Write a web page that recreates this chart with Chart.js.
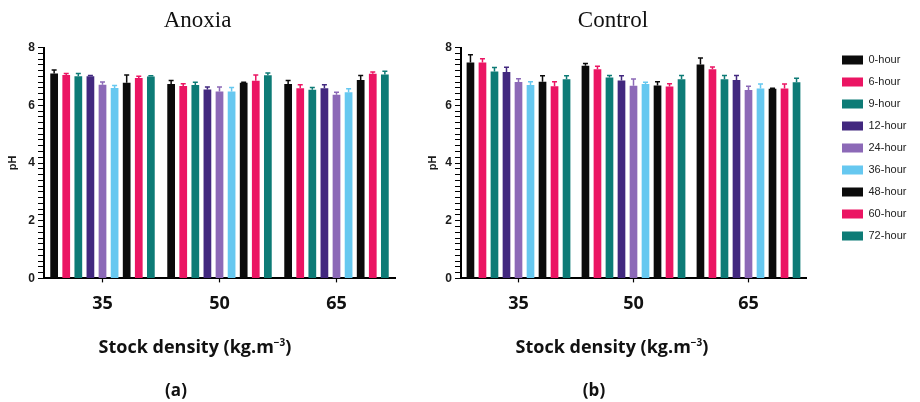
<!DOCTYPE html>
<html>
<head>
<meta charset="utf-8">
<script src="https://cdn.jsdelivr.net/npm/chart.js@4.4.1/dist/chart.umd.min.js"></script>
<style>
  html, body { margin: 0; padding: 0; background: #fff; width: 920px; height: 402px; overflow: hidden; }
  .panel { position: absolute; top: 0; height: 402px; }
  #panelA { left: 0; width: 400px; }
  #panelB { left: 420px; width: 500px; }
  .cap { position: absolute; font-family: "Open Sans", sans-serif; font-weight: 700; color: #111;
         white-space: nowrap; transform: translate(-50%, -50%); font-size: 17px; line-height: 1; }
  .axisTitle { top: 346px; font-size: 18px; }
  .tag { top: 389px; }
</style>
</head>
<body>
<div class="panel" id="panelA"><canvas id="chartA" width="400" height="402"></canvas></div>
<div class="panel" id="panelB"><canvas id="chartB" width="500" height="402"></canvas></div>
<div class="cap axisTitle" style="left:195px">Stock density (kg.m<sup style="font-size:10px;vertical-align:7px">−3</sup>)</div>
<div class="cap axisTitle" style="left:612px">Stock density (kg.m<sup style="font-size:10px;vertical-align:7px">−3</sup>)</div>
<div class="cap tag" style="left:176px">(a)</div>
<div class="cap tag" style="left:594px">(b)</div>
<script>
// Stocking densities (kg.m-3) and sampling times
const densities = ['35', '50', '65'];
const hourLabels = ['0-hour', '6-hour', '9-hour', '12-hour', '24-hour', '36-hour', '48-hour', '60-hour', '72-hour'];
const hourColors = ['#0b0b0b', '#eb1563', '#0d7b76', '#42287f', '#8c69b7', '#66c8f0', '#0b0b0b', '#eb1563', '#0d7b76'];
const yTickValues = [0, 2, 4, 6, 8];

// Anoxia: mean pH per sampling time, one array per density
const anoxia35 = [7.10, 7.05, 7.01, 7.01, 6.71, 6.60, 6.78, 6.95, 7.00];
const anoxia50 = [6.74, 6.67, 6.70, 6.55, 6.48, 6.48, 6.78, 6.85, 7.04];
const anoxia65 = [6.74, 6.59, 6.54, 6.59, 6.37, 6.45, 6.88, 7.09, 7.07];
const anoxia35Err = [0.12, 0.05, 0.09, 0.02, 0.10, 0.09, 0.27, 0.06, 0.02];
const anoxia50Err = [0.12, 0.08, 0.10, 0.08, 0.15, 0.14, 0.02, 0.20, 0.08];
const anoxia65Err = [0.12, 0.12, 0.08, 0.12, 0.08, 0.12, 0.15, 0.06, 0.11];

// Control: mean pH per sampling time, one array per density
const control35 = [7.48, 7.48, 7.17, 7.15, 6.81, 6.70, 6.82, 6.66, 6.90];
const control50 = [7.37, 7.25, 6.96, 6.86, 6.68, 6.74, 6.69, 6.65, 6.90];
const control65 = [7.41, 7.25, 6.90, 6.88, 6.53, 6.58, 6.57, 6.58, 6.80];
const control35Err = [0.27, 0.13, 0.14, 0.17, 0.11, 0.12, 0.20, 0.16, 0.12];
const control50Err = [0.08, 0.10, 0.07, 0.16, 0.23, 0.06, 0.13, 0.10, 0.13];
const control65Err = [0.23, 0.08, 0.13, 0.15, 0.13, 0.16, 0.02, 0.16, 0.14];

Chart.defaults.font.family = '"Liberation Sans", Arial, sans-serif';
Chart.defaults.color = '#1b1b1b';

// Upward error bars (mean + SE) drawn through the y scale
const errorBars = {
  id: 'errorBars',
  afterDatasetsDraw(chart) {
    const { ctx } = chart;
    const yScale = chart.scales.y;
    chart.data.datasets.forEach((ds, i) => {
      const meta = chart.getDatasetMeta(i);
      if (meta.hidden) return;
      meta.data.forEach((bar, j) => {
        const top = yScale.getPixelForValue(ds.data[j] + ds.errors[j]);
        ctx.save();
        ctx.strokeStyle = ds.backgroundColor;
        ctx.lineWidth = 1.5;
        ctx.beginPath();
        ctx.moveTo(bar.x, bar.y);
        ctx.lineTo(bar.x, top);
        ctx.moveTo(bar.x - 2.5, top);
        ctx.lineTo(bar.x + 2.5, top);
        ctx.stroke();
        ctx.restore();
      });
    });
  }
};

// Moves the legend box to a fixed spot beside the plot
const legendPlacement = {
  id: 'legendPlacement',
  afterLayout(chart, args, opts) {
    const lg = chart.legend;
    if (!lg || opts.left === undefined) return;
    const pad = lg.options.labels.padding;
    const dx = opts.left - (lg.left + pad);
    const dy = opts.top - (lg.top + pad);
    lg.left += dx; lg.right += dx;
    lg.top += dy; lg.bottom += dy;
  }
};

function buildDatasets(rows, errRows, catPct) {
  return hourLabels.map((label, i) => ({
    label,
    data: rows.map(r => r[i]),
    errors: errRows.map(r => r[i]),
    backgroundColor: hourColors[i],
    borderWidth: 0,
    barPercentage: 0.64,
    categoryPercentage: catPct
  }));
}

function buildScales(axisWidth) {
  return {
    x: {
      type: 'category',
      offset: true,
      grid: { display: true, drawOnChartArea: false, drawTicks: true, tickLength: 4, offset: false, color: '#000', tickWidth: 1.2 },
      border: { display: true, color: '#000', width: 2 },
      ticks: { font: { family: '"Open Sans", sans-serif', size: 18, weight: 'bold' }, color: '#111', padding: 11 }
    },
    y: {
      min: 0, max: 8,
      afterFit(scale) { scale.width = axisWidth; },
      grid: { display: true, drawOnChartArea: false, drawTicks: true, tickLength: 6, color: '#000', tickWidth: 1 },
      border: { display: true, color: '#000', width: 2 },
      ticks: {
        stepSize: 0.2, maxTicksLimit: 100, autoSkip: false, padding: 3,
        font: { size: 12, weight: 'bold' }, color: '#1b1b1b',
        callback(v) {
          const r = Math.round(v);
          return (Math.abs(v - r) < 1e-6 && yTickValues.includes(r)) ? String(r) : '';
        }
      },
      title: { display: true, text: 'pH', font: { size: 11, weight: 'bold' }, color: '#1b1b1b', padding: { top: 6, bottom: 0 } }
    }
  };
}

function titleOpts(text) {
  return {
    display: true, text,
    font: { family: '"Liberation Serif", "Times New Roman", serif', size: 23, weight: 'normal' },
    color: '#111',
    padding: { top: 7, bottom: 13 }
  };
}

new Chart(document.getElementById('chartA'), {
  type: 'bar',
  data: { labels: densities, datasets: buildDatasets([anoxia35, anoxia50, anoxia65], [anoxia35Err, anoxia50Err, anoxia65Err], 0.93) },
  options: {
    responsive: false, animation: false,
    layout: { padding: { left: 0, right: 5, top: 0, bottom: 76 } },
    scales: buildScales(44),
    plugins: { legend: { display: false }, title: titleOpts('Anoxia'), tooltip: { enabled: false } }
  },
  plugins: [errorBars]
});

new Chart(document.getElementById('chartB'), {
  type: 'bar',
  data: { labels: densities, datasets: buildDatasets([control35, control50, control65], [control35Err, control50Err, control65Err], 0.94) },
  options: {
    responsive: false, animation: false,
    layout: { padding: { left: 0, right: 114, top: 0, bottom: 76 } },
    scales: buildScales(41),
    plugins: {
      legend: {
        display: true, position: 'chartArea', align: 'start',
        labels: { boxWidth: 21, boxHeight: 9, padding: 11, color: '#222', font: { size: 11 } }
      },
      legendPlacement: { left: 422, top: 54.5 },
      title: titleOpts('Control'),
      tooltip: { enabled: false }
    }
  },
  plugins: [errorBars, legendPlacement]
});
</script>
</body>
</html>
